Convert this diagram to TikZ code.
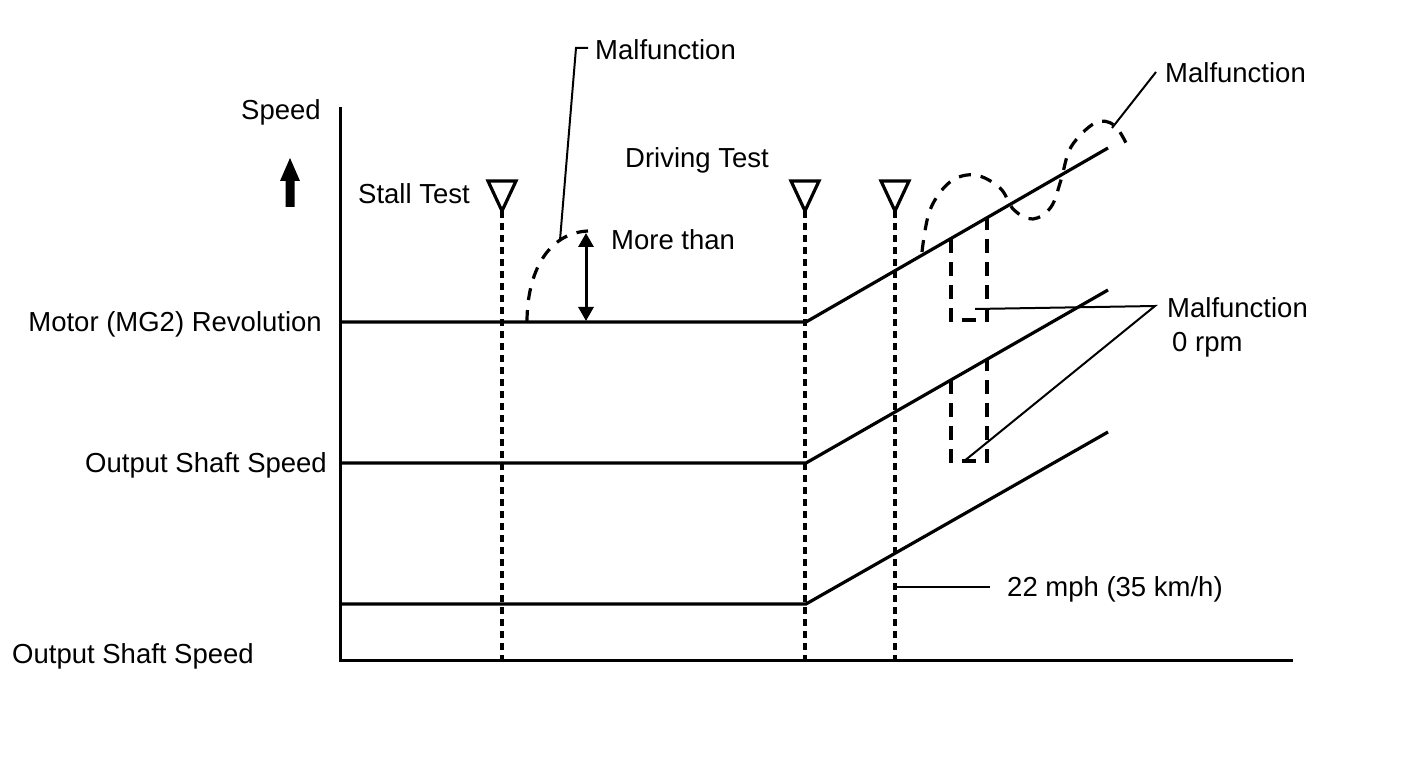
\documentclass[tikz,border=0pt]{standalone}
\usepackage{fontspec}
\setmainfont{Liberation Sans}
\usetikzlibrary{arrows.meta}
\tikzset{
  lbl/.style={inner sep=0pt, font=\fontsize{27.5}{33}\selectfont, yshift=-2pt},
  axis/.style={line width=3pt},
  trace/.style={line width=3.2pt},
  vdot/.style={line width=3.5pt, dash pattern=on 7pt off 5pt},
  malf/.style={line width=3.2pt, dash pattern=on 12pt off 10pt},
  leader/.style={line width=2pt},
  tri/.style={line width=3.2pt, line join=miter},
}
\begin{document}
\begin{tikzpicture}[x=1pt,y=-1pt]
\useasboundingbox (0,0) rectangle (1424,759);
% axes
\coordinate (ytop) at (340,107);
\coordinate (orig) at (340,660);
\coordinate (xend) at (1293,660);
\draw[axis] (ytop) -- (orig) -- (xend);
% labels
\node[lbl] (speed) at (281,110) {Speed};
\node[lbl] (stall) at (414,192) {Stall Test};
\node[lbl] (drive) at (697,158) {Driving Test};
\node[lbl,anchor=east] (motor) at (322,322) {Motor (MG2) Revolution};
\node[lbl,anchor=east] (oss1) at (327,463) {Output Shaft Speed};
\node[lbl,anchor=west] (oss2) at (12,654) {Output Shaft Speed};
\node[lbl,anchor=west] (more) at (611,238) {More than};
\node[lbl,anchor=west] (mal1) at (595,48) {Malfunction};
\node[lbl,anchor=west] (mal2) at (1165,71) {Malfunction};
\node[lbl,anchor=west] (mal3) at (1167,306) {Malfunction};
\node[lbl,anchor=west] (rpm) at (1172,343) {0 rpm};
\node[lbl,anchor=west] (mph) at (1007,587) {22 mph (35 km/h)};
% speed arrow
\fill (290,158) -- (300,181) -- (294.5,181) -- (294.5,207) -- (285.5,207) -- (285.5,181) -- (280,181) -- cycle;
% triangles and dotted lines
\foreach \x/\n in {502/a,805/b,895/c}{
  \coordinate (t\n) at (\x,211);
  \coordinate (b\n) at (\x,660);
  \draw[tri] (\x-14,181) -- (\x+14,181) -- (t\n) -- cycle;
  \draw[vdot] (t\n) -- (b\n);
}
% traces
\coordinate (m0) at (340,322); \coordinate (m1) at (806,322); \coordinate (m2) at (1108,148);
\coordinate (o0) at (340,463); \coordinate (o1) at (806,463); \coordinate (o2) at (1108,290);
\coordinate (w0) at (340,604); \coordinate (w1) at (806,604); \coordinate (w2) at (1108,432);
\draw[trace] (m0) -- (m1) -- (m2);
\draw[trace] (o0) -- (o1) -- (o2);
\draw[trace] (w0) -- (w1) -- (w2);
% stall test malfunction curve
\coordinate (s0) at (527,322);
\coordinate (s1) at (588,231);
\draw[malf] (s0) .. controls (527,272) and (548,233) .. (s1);
% more-than dimension arrow
\coordinate (d0) at (586,233);
\coordinate (d1) at (586,321);
\draw[line width=3pt,{Triangle[width=15pt,length=14pt]}-{Triangle[width=15pt,length=14pt]}] (d0) -- (d1);
% leader to top malfunction
\coordinate (l1) at (560,240);
\coordinate (l2) at (576,48);
\coordinate (l2e) at (588,48);
\draw[leader] (l1) -- (l2) -- (l2e);
% driving test malfunction curve
\draw[malf] plot[smooth,tension=0.6] coordinates {(922,252) (930,210) (950,182) (975,175) (1000,188) (1014,210) (1033,219) (1051,207) (1061,180) (1071,147) (1095,123) (1114,125) (1127,145)};
\coordinate (l3) at (1112,128);
\coordinate (l4) at (1156,72);
\draw[leader] (l3) -- (l4);
% 0 rpm dashed drops
\draw[malf, dash pattern=on 14pt off 9pt] (951,239) -- (951,320) -- (987,320) -- (987,218);
\draw[malf, dash pattern=on 14pt off 9pt] (951,380) -- (951,461) -- (987,461) -- (987,359);
\coordinate (r1) at (975,309);
\coordinate (r2) at (1155,306);
\coordinate (r3) at (963,462);
\draw[leader] (r1) -- (r2) -- (r3);
% 22 mph leader
\coordinate (p1) at (895,587);
\coordinate (p2) at (990,587);
\draw[leader] (p1) -- (p2);
\end{tikzpicture}
\end{document}
